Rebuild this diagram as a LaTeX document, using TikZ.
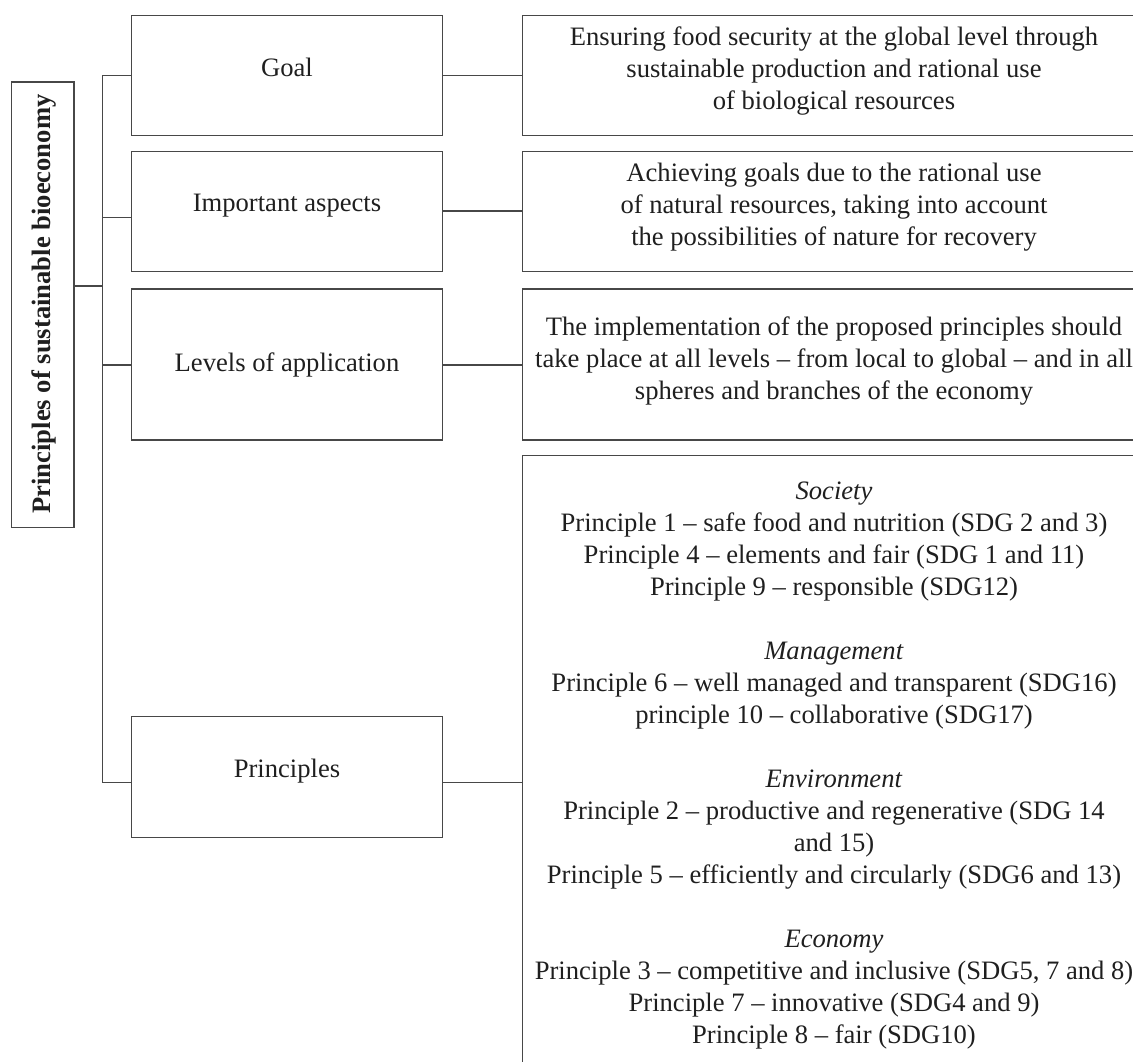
\documentclass[tikz,border=0pt]{standalone}
\usepackage{fontspec}
\setmainfont{Liberation Serif}
\newcommand{\firstline}{\rule{0pt}{12pt}}
\begin{document}
\begin{tikzpicture}[x=0.5pt,y=-0.5pt,
  box/.style={draw=black!72, line width=0.65pt, rectangle, inner sep=0pt, outer sep=0pt},
  lbox/.style={box, minimum width=155.7pt},
  rbox/.style={box, minimum width=311.65pt},
  txt/.style={font=\fontsize{13.3pt}{16pt}\selectfont, inner sep=0pt, outer sep=0pt, align=center, anchor=base, text=black!88},
  mtxt/.style={txt, anchor=north},
  conn/.style={draw=black!72, line width=0.65pt}]
\useasboundingbox (0,0) rectangle (1133,1061);
\clip (0,0) rectangle (1133,1061);

% title box
\node[box, minimum width=31.15pt, minimum height=222.65pt] (title) at (42.85,304.65) {};
\node[txt, font=\fontsize{13.3pt}{16pt}\selectfont\bfseries, rotate=90] (titletext) at (50.7,304) {Principles of sustainable bioeconomy};

% left boxes
\node[lbox, minimum height=60pt] (goal) at (287,75.7) {};
\node[lbox, minimum height=59.8pt] (imp) at (287,211.5) {};
\node[lbox, minimum height=75.5pt] (lev) at (287,364.5) {};
\node[lbox, minimum height=60.3pt] (pri) at (287,777) {};
\node[txt] (goaltext) at (287,76) {Goal};
\node[txt] (imptext) at (287,211) {Important aspects};
\node[txt] (levtext) at (287,371) {Levels of application};
\node[txt] (pritext) at (287,777) {Principles};

% right boxes
\node[rbox, minimum height=60pt] (goalR) at (834.35,75.7) {};
\node[rbox, minimum height=59.8pt] (impR) at (834.35,211.5) {};
\node[rbox, minimum height=75.5pt] (levR) at (834.35,364.5) {};
\node[rbox, minimum height=312.15pt] (priR) at (834.35,767.85) {};

\node[mtxt] (goalRtext) at (834,21.7) {\firstline Ensuring food security at the global level through\\sustainable production and rational use\\of biological resources};
\node[mtxt] (impRtext) at (834,157.7) {\firstline Achieving goals due to the rational use\\of natural resources, taking into account\\the possibilities of nature for recovery};
\node[mtxt] (levRtext) at (834,311) {\firstline The implementation of the proposed principles should\\take place at all levels – from local to global – and in all\\spheres and branches of the economy};
\node[mtxt] (priRtext) at (834,475) {\firstline\textit{Society}\\
Principle 1 – safe food and nutrition (SDG 2 and 3)\\
Principle 4 – elements and fair (SDG 1 and 11)\\
Principle 9 – responsible (SDG12)\\[16pt]
\textit{Management}\\
Principle 6 – well managed and transparent (SDG16)\\
principle 10 – collaborative (SDG17)\\[16pt]
\textit{Environment}\\
Principle 2 – productive and regenerative (SDG 14\\
and 15)\\
Principle 5 – efficiently and circularly (SDG6 and 13)\\[16pt]
\textit{Economy}\\
Principle 3 – competitive and inclusive (SDG5, 7 and 8)\\
Principle 7 – innovative (SDG4 and 9)\\
Principle 8 – fair (SDG10)};

% connectors
\coordinate (sp0) at (102.7,286);
\coordinate (sp1) at (102.7,75.3);
\coordinate (sp2) at (102.7,217.3);
\coordinate (sp3) at (102.7,365);
\coordinate (sp4) at (102.7,782.3);
\draw[conn] (sp1 -| goal.west) -- (sp1) -- (sp4) -- (sp4 -| pri.west);
\draw[conn] (sp0 -| title.east) -- (sp0);
\draw[conn] (sp2) -- (sp2 -| imp.west);
\draw[conn] (sp3) -- (sp3 -| lev.west);

\coordinate (r1) at (480,75.3);
\coordinate (r2) at (480,211);
\coordinate (r3) at (480,365);
\coordinate (r4) at (480,782.3);
\draw[conn] (r1 -| goal.east) -- (r1 -| goalR.west);
\draw[conn] (r2 -| imp.east) -- (r2 -| impR.west);
\draw[conn] (r3 -| lev.east) -- (r3 -| levR.west);
\draw[conn] (r4 -| pri.east) -- (r4 -| priR.west);
\end{tikzpicture}
\end{document}
